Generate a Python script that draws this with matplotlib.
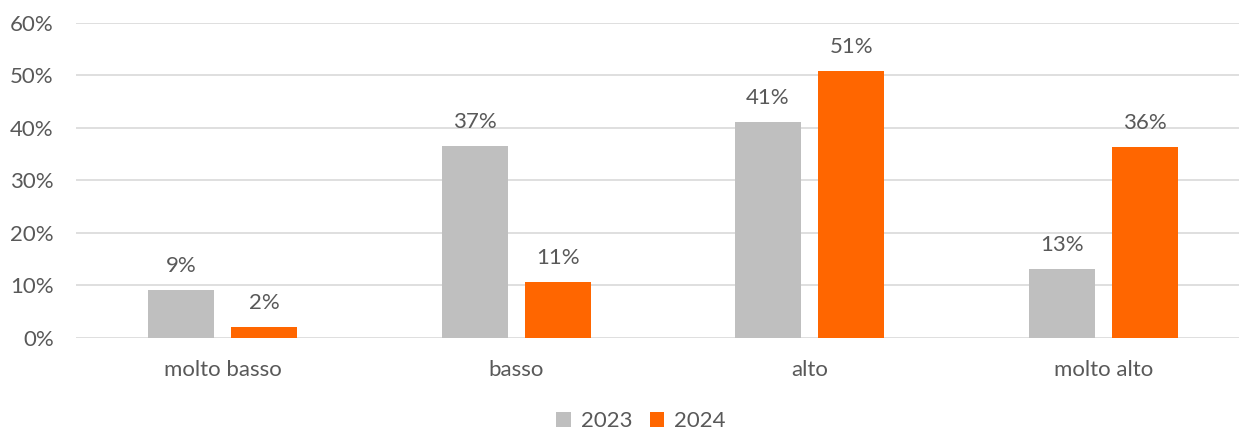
import matplotlib.pyplot as plt
import numpy as np

plt.rcParams['font.family'] = ['Lato', 'DejaVu Sans']

categories = ["molto basso", "basso", "alto", "molto alto"]
series_names = ["2023", "2024"]
vals_2023 = [9.1, 36.6, 41.1, 13.1]
vals_2024 = [2.0, 10.6, 50.8, 36.4]
yticks = [0, 10, 20, 30, 40, 50, 60]

grey = "#BFBFBF"
orange = "#FF6600"
txt = "#595959"
fs = 16

fig = plt.figure(figsize=(12.39, 4.30), dpi=100)
ax = fig.add_axes([76/1239, 92.5/430, 1163/1239, 314.5/430])

x = np.arange(len(categories))
w = 0.225
off = 0.142
b1 = ax.bar(x - off, vals_2023, w, color=grey, label=series_names[0], zorder=3)
b2 = ax.bar(x + off, vals_2024, w, color=orange, label=series_names[1], zorder=3)

for bars in (b1, b2):
    for r in bars:
        h = r.get_height()
        ax.annotate(f"{h:.0f}%", (r.get_x() + r.get_width()/2, h),
                    xytext=(0, 10), textcoords="offset points",
                    ha="center", va="bottom", fontsize=fs, color=txt)

ax.set_xlim(-0.5, 3.5 - 11/293.7)
ax.set_ylim(0, 60)
ax.set_yticks(yticks)
ax.set_yticklabels([f"{t}%" for t in yticks])
ax.set_xticks(x)
ax.set_xticklabels(categories)
ax.tick_params(axis="both", length=0, labelsize=fs, colors=txt)
ax.tick_params(axis="y", pad=16)
ax.tick_params(axis="x", pad=16)
ax.grid(axis="y", color="#D9D9D9", linewidth=1.2, zorder=0)
for s in ax.spines.values():
    s.set_visible(False)

fig.legend(loc="center", bbox_to_anchor=(641/1239, 9/430), ncol=2, frameon=False,
           fontsize=fs, labelcolor=txt, handlelength=0.65, handleheight=0.65,
           handletextpad=0.45, columnspacing=0.8)

fig.savefig("out.png", dpi=100)
